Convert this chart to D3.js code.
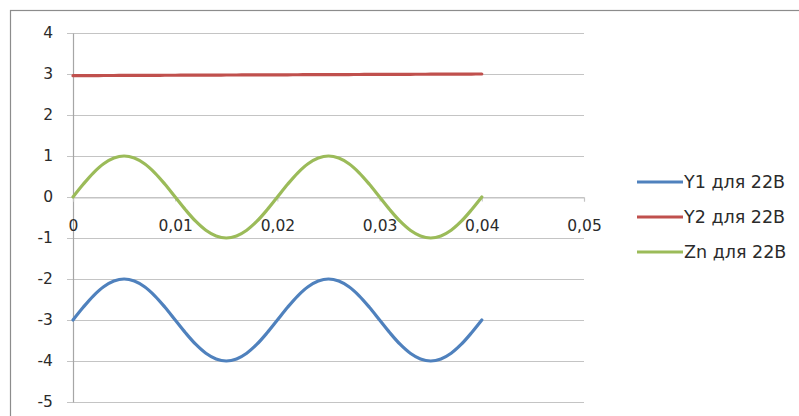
<!DOCTYPE html>
<html><head><meta charset="utf-8">
<script src="https://cdn.jsdelivr.net/npm/d3@7"></script>
<style>html,body{margin:0;padding:0;background:#fff;}svg{display:block;}</style>
</head><body>
<script>
// Data
const time = [0,0.001,0.002,0.003,0.004,0.005,0.006,0.007,0.008,0.009,0.010,0.011,0.012,0.013,0.014,0.015,0.016,0.017,0.018,0.019,0.020,0.021,0.022,0.023,0.024,0.025,0.026,0.027,0.028,0.029,0.030,0.031,0.032,0.033,0.034,0.035,0.036,0.037,0.038,0.039,0.040];
const y1 = [-3,-2.69,-2.41,-2.19,-2.05,-2,-2.05,-2.19,-2.41,-2.69,-3,-3.31,-3.59,-3.81,-3.95,-4,-3.95,-3.81,-3.59,-3.31,-3,-2.69,-2.41,-2.19,-2.05,-2,-2.05,-2.19,-2.41,-2.69,-3,-3.31,-3.59,-3.81,-3.95,-4,-3.95,-3.81,-3.59,-3.31,-3];
const y2 = [2.96,2.961,2.962,2.963,2.964,2.965,2.966,2.967,2.968,2.969,2.97,2.971,2.972,2.973,2.974,2.975,2.976,2.977,2.978,2.979,2.98,2.981,2.982,2.983,2.984,2.985,2.986,2.987,2.988,2.989,2.99,2.991,2.992,2.993,2.994,2.995,2.996,2.997,2.998,2.999,3.0];
const zn = [0,0.31,0.59,0.81,0.95,1,0.95,0.81,0.59,0.31,0,-0.31,-0.59,-0.81,-0.95,-1,-0.95,-0.81,-0.59,-0.31,0,0.31,0.59,0.81,0.95,1,0.95,0.81,0.59,0.31,0,-0.31,-0.59,-0.81,-0.95,-1,-0.95,-0.81,-0.59,-0.31,0];
const seriesNames = ["Y1 для 22В","Y2 для 22В","Zn для 22В"];
const seriesColors = ["#4F81BD","#C0504D","#9BBB59"];
const xTicks = [0,0.01,0.02,0.03,0.04,0.05];
const yTicks = [-5,-4,-3,-2,-1,0,1,2,3,4];

const W = 799, H = 416;
const svg = d3.select("body").append("svg").attr("width", W).attr("height", H);
const font = "'DejaVu Sans', sans-serif";

// chart border
svg.append("rect").attr("x", 10.5).attr("y", 10.5).attr("width", 820).attr("height", 430)
  .attr("fill", "#fff").attr("stroke", "#8c8c8c").attr("stroke-width", 1.2);

const x = d3.scaleLinear().domain([0, 0.05]).range([73, 584]);
const y = d3.scaleLinear().domain([-5, 4]).range([402, 33]);

// gridlines
svg.append("g").selectAll("line").data(yTicks).join("line")
  .attr("x1", x(0) - 6).attr("x2", x(0.05))
  .attr("y1", d => Math.round(y(d)) + 0.5).attr("y2", d => Math.round(y(d)) + 0.5)
  .attr("stroke", "#c4c4c4").attr("stroke-width", 1.2);

// y axis
const yAxis = svg.append("g").attr("transform", `translate(${x(0)},0)`)
  .call(d3.axisLeft(y).tickValues(yTicks).tickSize(0).tickPadding(20).tickFormat(d3.format("d")));
yAxis.select(".domain").attr("stroke", "#a6a6a6").attr("stroke-width", 1.2);
yAxis.selectAll("text").attr("font-family", font).attr("font-size", 15.5).attr("fill", "#2b2b2b")
  .text(d => d < 0 ? "-" + Math.abs(d) : d);

// x axis at y=0
const xAxis = svg.append("g").attr("transform", `translate(0,${Math.round(y(0)) + 0.5})`)
  .call(d3.axisBottom(x).tickValues(xTicks).tickSize(4).tickPadding(18)
    .tickFormat(d => d === 0 ? "0" : d3.format(".2f")(d).replace(".", ",")));
xAxis.select(".domain").attr("stroke", "#c4c4c4").attr("stroke-width", 1.2);
xAxis.selectAll(".tick line").attr("stroke", "#c4c4c4");
xAxis.selectAll("text").attr("font-family", font).attr("font-size", 15.5).attr("fill", "#2b2b2b");

// lines
const allSeries = [y1, y2, zn];
const line = d3.line().x((d, i) => x(time[i])).y(d => y(d)).curve(d3.curveCatmullRom);
svg.append("g").selectAll("path").data(allSeries).join("path")
  .attr("d", d => line(d)).attr("fill", "none")
  .attr("stroke", (d, i) => seriesColors[i]).attr("stroke-width", 3.2)
  .attr("stroke-linecap", "round");

// legend
const legend = svg.append("g").selectAll("g").data(seriesNames).join("g")
  .attr("transform", (d, i) => `translate(637,${182 + i * 35})`);
legend.append("line").attr("x1", 0).attr("x2", 46).attr("y1", 0).attr("y2", 0)
  .attr("stroke", (d, i) => seriesColors[i]).attr("stroke-width", 3);
legend.append("text").attr("x", 47).attr("y", 0).attr("dy", "0.36em")
  .attr("font-family", font).attr("font-size", 17.5).attr("fill", "#2b2b2b").text(d => d);
</script>
</body></html>
